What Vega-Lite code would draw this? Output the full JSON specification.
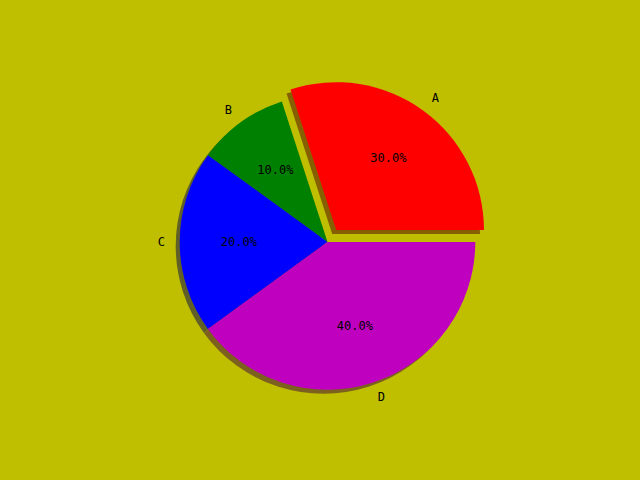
{
  "$schema": "https://vega.github.io/schema/vega-lite/v6.json",
  "width": 625,
  "height": 476,
  "autosize": {"type": "none"},
  "padding": {"left": 15, "top": 4, "right": 0, "bottom": 0},
  "background": "#bfbf00",
  "view": {"stroke": null},
  "data": {
    "values": [
      {"label": "A", "value": 30, "pct": "30.0%"},
      {"label": "B", "value": 10, "pct": "10.0%"},
      {"label": "C", "value": 20, "pct": "20.0%"},
      {"label": "D", "value": 40, "pct": "40.0%"}
    ]
  },
  "encoding": {
    "theta": {"field": "value", "type": "quantitative", "stack": true, "scale": {"domain": [0, 100], "range": [1.5707963, -4.712389]}},
    "order": {"field": "label", "sort": "ascending"},
    "detail": {"field": "label", "type": "nominal"}
  },
  "layer": [
    {
      "mark": {"type": "arc", "radius": 147.8, "xOffset": -4, "yOffset": 4},
      "encoding": {
        "fill": {"field": "label", "type": "nominal", "scale": {"domain": ["A", "B", "C", "D"], "range": ["#866000", "#607300", "#606026", "#7c601d"]}, "legend": null},
        "opacity": {"condition": {"test": "datum.label === 'A'", "value": 0}, "value": 1}
      }
    },
    {
      "transform": [{"filter": "datum.label === 'A'"}],
      "mark": {"type": "arc", "radius": 147.8, "xOffset": 4.7, "yOffset": -8, "fill": "#866000"}
    },
    {
      "mark": {"type": "arc", "radius": 147.8},
      "encoding": {
        "color": {"field": "label", "type": "nominal", "scale": {"domain": ["A", "B", "C", "D"], "range": ["#ff0000", "#008000", "#0000ff", "#bf00bf"]}, "legend": null},
        "opacity": {"condition": {"test": "datum.label === 'A'", "value": 0}, "value": 1}
      }
    },
    {
      "transform": [{"filter": "datum.label === 'A'"}],
      "mark": {"type": "arc", "radius": 147.8, "xOffset": 8.7, "yOffset": -12, "fill": "#ff0000"}
    },
    {
      "mark": {"type": "text", "radius": 88.7, "font": "DejaVu Sans Mono", "fontSize": 12, "fill": "#000000", "align": "center", "baseline": "middle"},
      "encoding": {
        "text": {"field": "pct", "type": "nominal"},
        "opacity": {"condition": {"test": "datum.label === 'A'", "value": 0}, "value": 1}
      }
    },
    {
      "transform": [{"filter": "datum.label === 'A'"}],
      "mark": {"type": "text", "radius": 88.7, "xOffset": 8.7, "yOffset": -12, "font": "DejaVu Sans Mono", "fontSize": 12, "fill": "#000000", "align": "center", "baseline": "middle"},
      "encoding": {"text": {"field": "pct", "type": "nominal"}}
    },
    {
      "mark": {"type": "text", "radius": 162.6, "font": "DejaVu Sans Mono", "fontSize": 12, "fill": "#000000", "align": "left", "baseline": "middle"},
      "encoding": {
        "text": {"field": "label", "type": "nominal"},
        "opacity": {"condition": {"test": "datum.label === 'D'", "value": 1}, "value": 0}
      }
    },
    {
      "mark": {"type": "text", "radius": 162.6, "font": "DejaVu Sans Mono", "fontSize": 12, "fill": "#000000", "align": "right", "baseline": "middle"},
      "encoding": {
        "text": {"field": "label", "type": "nominal"},
        "opacity": {"condition": {"test": "datum.label === 'B' || datum.label === 'C'", "value": 1}, "value": 0}
      }
    },
    {
      "transform": [{"filter": "datum.label === 'A'"}],
      "mark": {"type": "text", "radius": 162.6, "xOffset": 8.7, "yOffset": -12, "font": "DejaVu Sans Mono", "fontSize": 12, "fill": "#000000", "align": "left", "baseline": "middle"},
      "encoding": {"text": {"field": "label", "type": "nominal"}}
    }
  ]
}
